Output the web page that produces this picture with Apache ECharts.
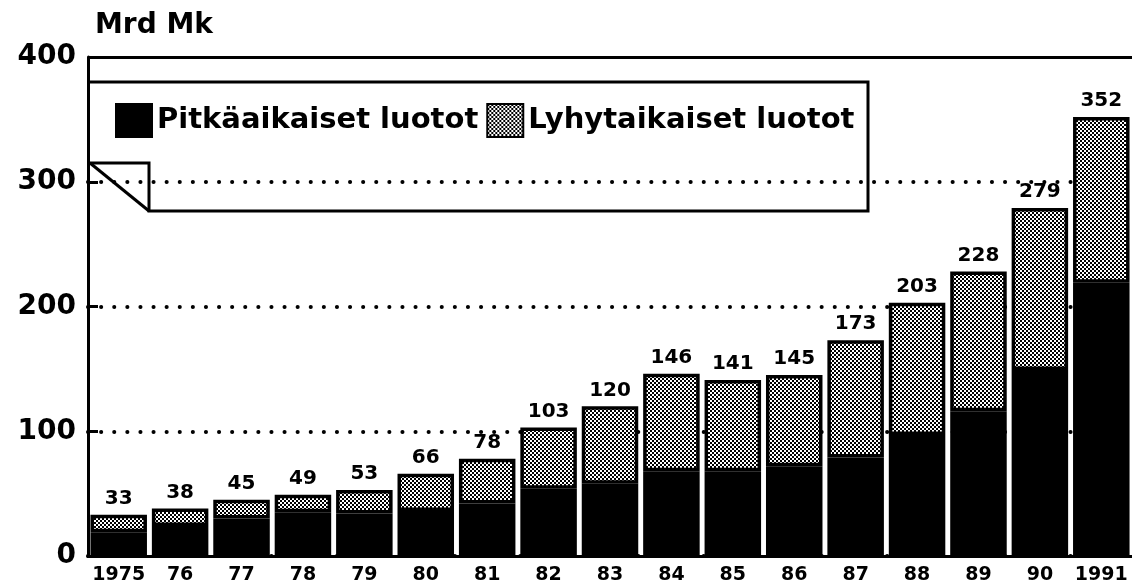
<!DOCTYPE html>
<html>
<head>
<meta charset="utf-8">
<script src="https://cdn.jsdelivr.net/npm/echarts@6/dist/echarts.min.js"></script>
<style>
  html, body { margin: 0; padding: 0; background: #fff; }
  #chart { width: 1132px; height: 585px; }
</style>
</head>
<body>
<div id="chart"></div>
<script>
const years = ['1975', '76', '77', '78', '79', '80', '81', '82', '83', '84', '85', '86', '87', '88', '89', '90', '1991'];
const longTerm = [19, 24, 30, 35, 34, 36, 42, 54, 58, 68, 68, 72, 79, 97, 116, 149, 219];
const shortTerm = [14, 14, 15, 14, 19, 30, 36, 49, 62, 78, 73, 73, 94, 106, 112, 130, 133];
const totals = [33, 38, 45, 49, 53, 66, 78, 103, 120, 146, 141, 145, 173, 203, 228, 279, 352];
const yTicks = [0, 100, 200, 300, 400];

const FONT = 'DejaVu Sans';

// halftone-ish fill for the short-term part
function makePattern() {
  const c = document.createElement('canvas');
  c.width = 4; c.height = 4;
  const g = c.getContext('2d');
  g.fillStyle = '#fff';
  g.fillRect(0, 0, 4, 4);
  g.fillStyle = '#000';
  g.fillRect(0, 0, 2, 2);
  g.fillRect(2, 2, 2, 2);
  return c;
}
const dots = { image: makePattern(), repeat: 'repeat' };

const chart = echarts.init(document.getElementById('chart'), null, { renderer: 'canvas' });

chart.setOption({
  backgroundColor: '#fff',
  animation: false,
  title: {
    text: 'Mrd Mk',
    left: 90,
    top: 7,
    textStyle: { fontFamily: FONT, fontWeight: 'bold', fontSize: 28, color: '#000' },
  },
  legend: {
    left: 110,
    top: 98,
    itemWidth: 36,
    itemHeight: 33,
    itemGap: 8,
    icon: 'rect',
    textStyle: { fontFamily: FONT, fontWeight: 'bold', fontSize: 29, color: '#000' },
    data: [
      { name: 'Pitkäaikaiset luotot', itemStyle: { color: '#000' } },
      { name: 'Lyhytaikaiset luotot', itemStyle: { color: dots, borderColor: '#000', borderWidth: 2 } },
    ],
  },
  grid: { left: 88, right: 0, top: 57, bottom: 29 },
  xAxis: {
    type: 'category',
    data: years,
    axisLine: { lineStyle: { color: '#000', width: 3 } },
    axisTick: { show: false },
    axisLabel: { interval: 0, fontFamily: FONT, fontWeight: 'bold', fontSize: 19, color: '#000', margin: 10 },
  },
  yAxis: {
    type: 'value',
    min: yTicks[0],
    max: yTicks[yTicks.length - 1],
    interval: 100,
    axisLine: { show: true, lineStyle: { color: '#000', width: 3 } },
    axisTick: { show: true, inside: true, length: 10, lineStyle: { color: '#000', width: 3 } },
    axisLabel: { fontFamily: FONT, fontWeight: 'bold', fontSize: 28, color: '#000', margin: 12 },
    splitLine: {
      show: true,
      showMaxLine: false,
      lineStyle: { color: '#000', width: 4, type: [0.1, 13], cap: 'round' },
    },
  },
  series: [
    {
      name: 'Pitkäaikaiset luotot',
      type: 'bar',
      stack: 'total',
      data: longTerm,
      barCategoryGap: '8%',
      itemStyle: { color: '#000', borderColor: '#000', borderWidth: 3 },
      markLine: {
        silent: true,
        symbol: 'none',
        label: { show: false },
        lineStyle: { color: '#000', width: 3, type: 'solid' },
        data: [{ yAxis: 400 }],
      },
    },
    {
      name: 'Lyhytaikaiset luotot',
      type: 'bar',
      stack: 'total',
      data: shortTerm,
      itemStyle: { color: dots, borderColor: '#000', borderWidth: 3.5 },
      label: {
        show: true,
        position: 'top',
        distance: 6,
        fontFamily: FONT,
        fontWeight: 'bold',
        fontSize: 20,
        color: '#000',
        formatter: (p) => String(totals[p.dataIndex]),
      },
    },
  ],
  graphic: [
    {
      // legend frame with the folded corner at lower left
      type: 'polyline',
      shape: { points: [[88, 82], [868, 82], [868, 211], [149, 211], [149, 163], [88, 163]] },
      style: { stroke: '#000', lineWidth: 3, fill: null },
      z: 10,
    },
    {
      type: 'line',
      shape: { x1: 90, y1: 163, x2: 149, y2: 211 },
      style: { stroke: '#000', lineWidth: 3 },
      z: 10,
    },
  ],
});
</script>
</body>
</html>
